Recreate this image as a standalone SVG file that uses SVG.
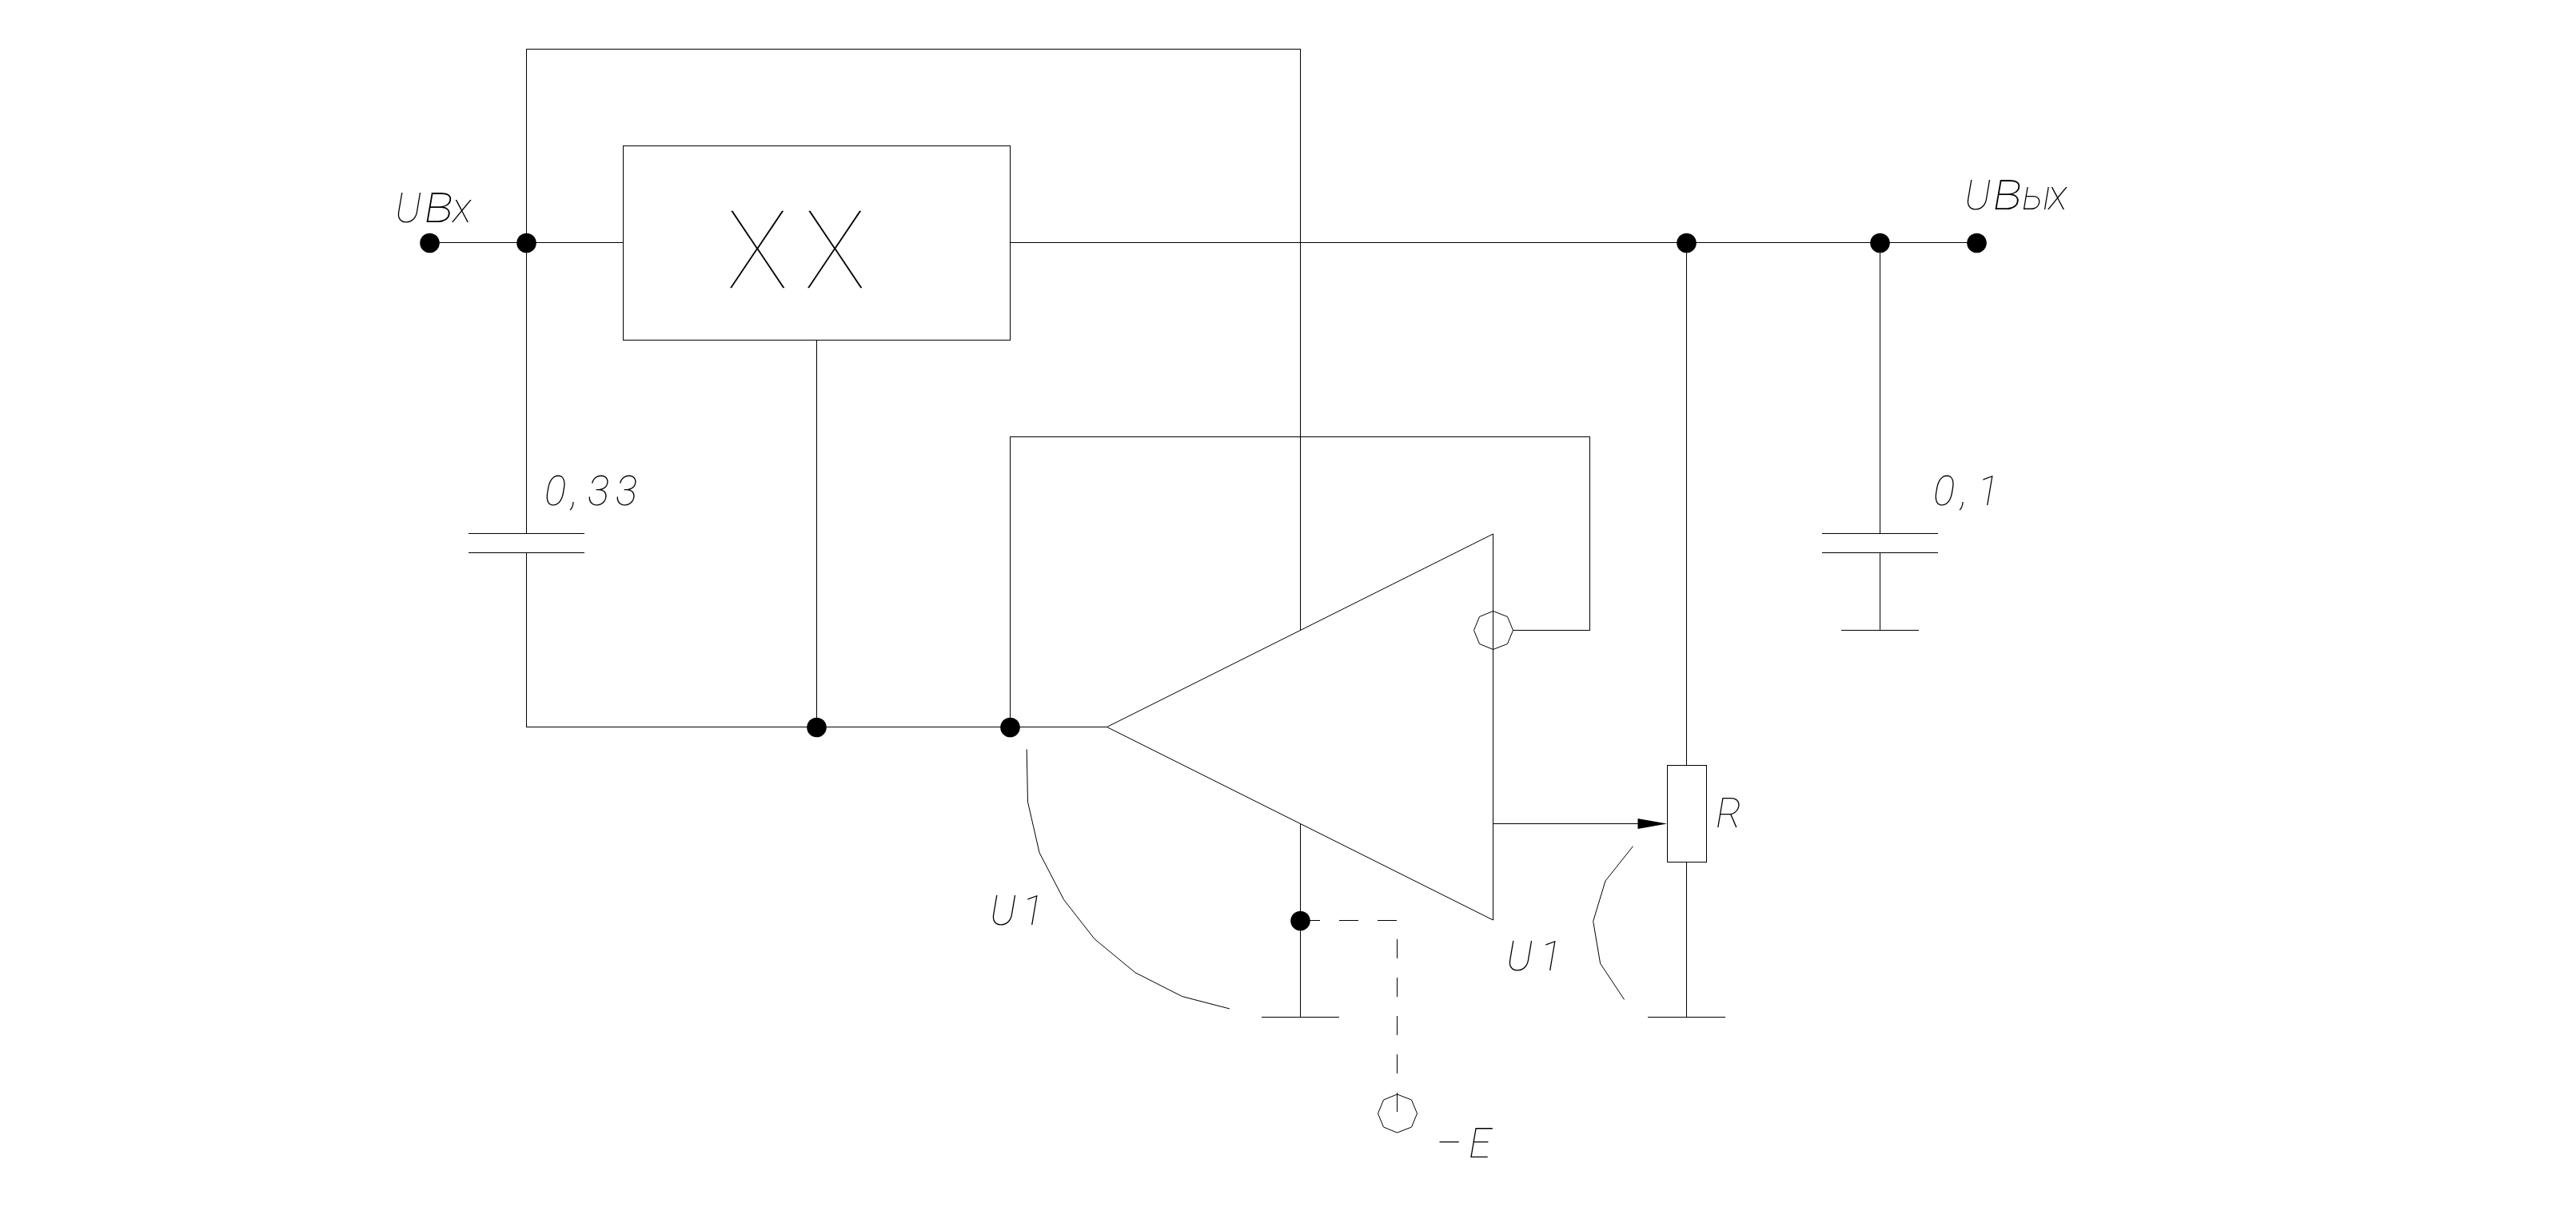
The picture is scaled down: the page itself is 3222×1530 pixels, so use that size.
<svg xmlns="http://www.w3.org/2000/svg" width="3222" height="1530" viewBox="0 0 3222 1530">
<style>
.w{fill:none;stroke:#000;stroke-width:1;shape-rendering:crispEdges}
.s{fill:none;stroke:#000;stroke-width:1}
.d{fill:#000;stroke:none}
.t{font-family:Roboto,"Liberation Sans",sans-serif;font-weight:100;font-style:italic;font-size:51px;fill:#000}
.xx{font-family:Roboto,"Liberation Sans",sans-serif;font-weight:100;font-size:137px;fill:#000;stroke:#fff;stroke-width:1.6px}
</style>
<defs>
<polygon id="oct" class="s" points="0,-24 18,-17 25,0 18,17 0,24 -17,17 -24,0 -17,-17"/>
<circle id="dot" class="d" r="12.3"/>
</defs>
<rect width="3222" height="1530" fill="#fff"/>
<g id="connectors">
<path class="w" d="M537.5 303.5H779.5"/>
<path class="w" d="M1263.5 303.5H2472.5"/>
<path class="w" d="M658.5 303.5V61.5H1626.5V788"/>
<path class="w" d="M658.5 303.5V667.5"/>
<path class="w" d="M658.5 691.5V909.5H1384.5"/>
<path class="w" d="M1021.5 425.5V909.5"/>
<path class="w" d="M1263.5 909.5V546.5H1988.5V788.5H1892"/>
<path class="w" d="M2109.5 303.5V957.5"/>
<path class="w" d="M2109.5 1078.5V1272.5"/>
<path class="w" d="M2351.5 303.5V667.5"/>
<path class="w" d="M2351.5 691.5V788.5"/>
<path class="w" d="M1626.5 1030V1272.5"/>
<path class="w" d="M1867.5 1030.5H2050"/>
<path class="w" stroke-dasharray="24 24" d="M1626.5 1151.5H1747.5V1392"/>
<polygon class="d" points="2048.5,1024 2085,1030.5 2048.5,1037"/>
<polyline class="s" points="1284.2,937.4 1285.5,1003.2 1300.1,1066.8 1330.7,1125.7 1369,1174.7 1420,1216.8 1478.7,1246.6 1538,1262"/>
<polyline class="s" points="2042.5,1058.7 2008,1102 1992.7,1152.5 2001.6,1205.3 2031.6,1250.5"/>
</g>
<g id="node-multiplier">
<rect class="w" x="779.5" y="182.5" width="484" height="243"/>
<text class="xx" transform="translate(910 360.5) scale(0.96 1)" x="-2 99">XX</text>
</g>
<g id="node-opamp">
<polygon class="s" points="1384.5,909.5 1867.5,668 1867.5,1151"/>
<use href="#oct" x="1867.5" y="788.5"/>
</g>
<g id="node-c1">
<path class="w" d="M586 667.5H731M586 691.5H731"/>
<text class="t" x="681 714 735 770" y="632">0,33</text>
</g>
<g id="node-c2">
<path class="w" d="M2279 667.5H2424M2279 691.5H2424"/>
<path class="w" d="M2303 788.5H2400"/>
<text class="t" x="2418 2452 2473" y="632">0,1</text>
</g>
<g id="node-r">
<rect class="w" x="2085.5" y="957.5" width="49" height="121"/>
<text class="t" x="2146" y="1035">R</text>
</g>
<g id="node-gnd-amp"><path class="w" d="M1578 1272.5H1675"/></g>
<g id="node-gnd-r"><path class="w" d="M2061 1272.5H2158"/></g>
<g id="node-minus-e">
<use href="#oct" x="1747.5" y="1393"/>
<text class="t" x="1796 1837" y="1448">–E</text>
</g>
<g id="node-in"><use href="#dot" x="537.5" y="304"/><text class="t" x="494 531 566" y="278">U<tspan style="font-size:70px">в</tspan>х</text></g>
<g id="node-out"><use href="#dot" x="2472.5" y="304"/><text class="t" x="2457 2493 2529 2562" y="262">U<tspan style="font-size:70px">в</tspan>ых</text></g>
<g id="junctions">
<use href="#dot" x="658.5" y="304"/>
<use href="#dot" x="2109.5" y="304"/>
<use href="#dot" x="2351.5" y="304"/>
<use href="#dot" x="1021.5" y="910"/>
<use href="#dot" x="1263.5" y="910"/>
<use href="#dot" x="1626.5" y="1152"/>
</g>
<g id="label-u1-left"><text class="t" x="1238 1278" y="1157">U1</text></g>
<g id="label-u1-right"><text class="t" x="1884 1926" y="1214">U1</text></g>
</svg>
